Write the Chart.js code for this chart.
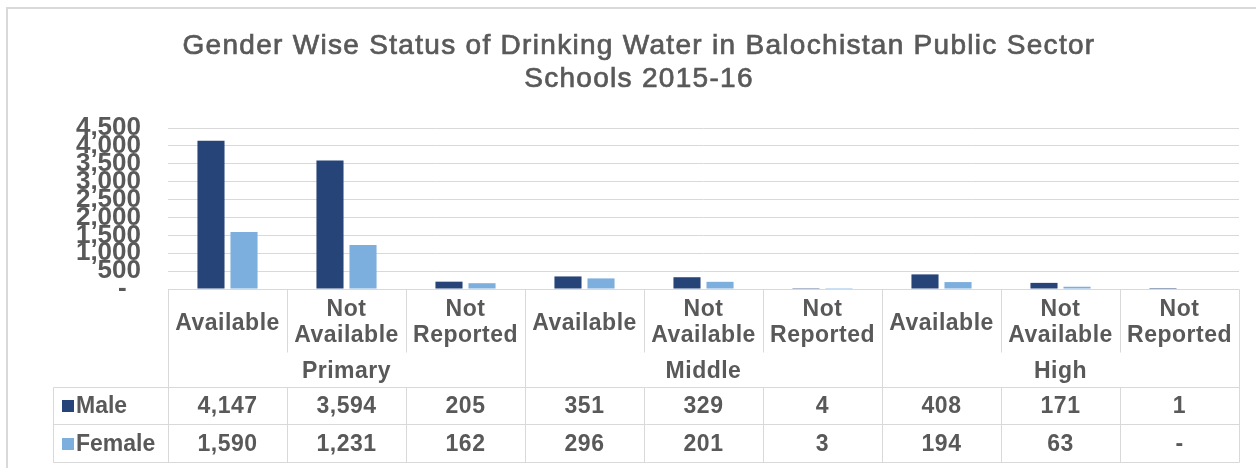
<!DOCTYPE html>
<html>
<head>
<meta charset="utf-8">
<title>Gender Wise Status of Drinking Water</title>
<script src="https://cdn.jsdelivr.net/npm/chart.js@4.4.1/dist/chart.umd.min.js"></script>
<style>
    html, body { margin: 0; padding: 0; background: #fff; }
    #wrap { width: 1256px; height: 468px; position: relative; }
</style>
</head>
<body>
<div id="wrap"><canvas id="waterChart"></canvas></div>
<script>
// Data
const titleLines = ['Gender Wise Status of Drinking Water in Balochistan Public Sector', 'Schools 2015-16'];
const levels = ['Primary', 'Middle', 'High'];
const statuses = [['Available'], ['Not', 'Available'], ['Not', 'Reported']];
const maleValues = [4147, 3594, 205, 351, 329, 4, 408, 171, 1];
const femaleValues = [1590, 1231, 162, 296, 201, 3, 194, 63, 0];
const yTicks = [0, 500, 1000, 1500, 2000, 2500, 3000, 3500, 4000, 4500];

const MALE_COLOR = '#264478';
const FEMALE_COLOR = '#7cafdd';
const TEXT_COLOR = '#595959';
const LINE_COLOR = '#d9d9d9';

// One label per bar group: level + status
const labels = [];
levels.forEach(level => {
    statuses.forEach(s => labels.push(level + ' ' + s.join(' ')));
});

function fmt(v) {
    return v === 0 ? '-' : v.toLocaleString('en-US');
}

// White background, outer frame and the title
const framePlugin = {
    id: 'frame',
    beforeDraw(chart) {
        const ctx = chart.ctx;
        ctx.save();
        ctx.fillStyle = '#fff';
        ctx.fillRect(0, 0, chart.width, chart.height);
        ctx.strokeStyle = LINE_COLOR;
        ctx.lineWidth = 2;
        ctx.beginPath();
        ctx.moveTo(7, chart.height);
        ctx.lineTo(7, 8);
        ctx.lineTo(chart.width, 8);
        ctx.stroke();

        // title, slightly thickened to match the medium weight
        ctx.fillStyle = TEXT_COLOR;
        ctx.strokeStyle = TEXT_COLOR;
        ctx.lineWidth = 0.7;
        ctx.font = '28px "Liberation Sans", Arial, sans-serif';
        ctx.letterSpacing = '1.3px';
        ctx.textAlign = 'center';
        ctx.textBaseline = 'middle';
        titleLines.forEach((t, i) => {
            ctx.fillText(t, 639, 46 + i * 33);
            ctx.strokeText(t, 639, 46 + i * 33);
        });
        ctx.restore();
    }
};

// Data table under the plot, columns follow the x scale
const tablePlugin = {
    id: 'dataTable',
    afterDraw(chart) {
        const ctx = chart.ctx;
        const { left, right, bottom } = chart.chartArea;
        const x = chart.scales.x;
        const colW = (right - left) / labels.length;
        const legendLeft = left - 115;
        const rowHead = bottom + 63;
        const rowGroup = bottom + 98;
        const rowMale = bottom + 135;
        const rowFemale = bottom + 173;

        ctx.save();
        ctx.strokeStyle = LINE_COLOR;
        ctx.lineWidth = 1;

        const line = (x1, y1, x2, y2) => {
            ctx.beginPath();
            ctx.moveTo(Math.round(x1) + 0.5, Math.round(y1) + 0.5);
            ctx.lineTo(Math.round(x2) + 0.5, Math.round(y2) + 0.5);
            ctx.stroke();
        };

        // horizontal lines
        line(left, bottom, right, bottom);
        line(legendLeft, rowGroup, right, rowGroup);
        line(legendLeft, rowMale, right, rowMale);
        line(legendLeft, rowFemale, right, rowFemale);

        // vertical lines
        line(legendLeft, rowGroup, legendLeft, rowFemale);
        for (let i = 0; i <= labels.length; i++) {
            const xe = x.getPixelForValue(i) - colW / 2;
            if (i % statuses.length === 0) {
                line(xe, bottom, xe, rowFemale);
            } else {
                line(xe, bottom, xe, rowHead);
                line(xe, rowGroup, xe, rowFemale);
            }
        }

        ctx.fillStyle = TEXT_COLOR;
        ctx.font = 'bold 23px "Liberation Sans", Arial, sans-serif';
        ctx.letterSpacing = '0.5px';
        ctx.textAlign = 'center';
        ctx.textBaseline = 'middle';

        // category labels and values
        labels.forEach((_, i) => {
            const cx = x.getPixelForValue(i);
            const lines = statuses[i % statuses.length];
            if (lines.length === 1) {
                ctx.fillText(lines[0], cx, bottom + 35);
            } else {
                ctx.fillText(lines[0], cx, bottom + 21);
                ctx.fillText(lines[1], cx, bottom + 47);
            }
            ctx.fillText(fmt(maleValues[i]), cx, bottom + 118);
            ctx.fillText(fmt(femaleValues[i]), cx, bottom + 156);
        });

        // group labels
        levels.forEach((level, g) => {
            const a = x.getPixelForValue(g * statuses.length);
            const b = x.getPixelForValue(g * statuses.length + statuses.length - 1);
            ctx.fillText(level, (a + b) / 2, bottom + 83);
        });

        // legend keys
        ctx.textAlign = 'left';
        ctx.letterSpacing = '0px';
        const keys = [
            { name: 'Male', color: MALE_COLOR, y: bottom + 118 },
            { name: 'Female', color: FEMALE_COLOR, y: bottom + 156 }
        ];
        keys.forEach(k => {
            ctx.fillStyle = k.color;
            ctx.fillRect(legendLeft + 9, k.y - 7, 12, 12);
            ctx.fillStyle = TEXT_COLOR;
            ctx.fillText(k.name, legendLeft + 23, k.y);
        });

        ctx.restore();
    }
};

const ctx = document.getElementById('waterChart').getContext('2d');
new Chart(ctx, {
    type: 'bar',
    data: {
        labels: labels,
        datasets: [
            {
                label: 'Male',
                data: maleValues,
                backgroundColor: MALE_COLOR,
                categoryPercentage: 0.555,
                barPercentage: 0.82
            },
            {
                label: 'Female',
                data: femaleValues,
                backgroundColor: FEMALE_COLOR,
                categoryPercentage: 0.555,
                barPercentage: 0.82
            }
        ]
    },
    options: {
        responsive: true,
        maintainAspectRatio: false,
        animation: false,
        layout: {
            padding: { top: 128, left: 10, right: 17, bottom: 179 }
        },
        plugins: {
            legend: { display: false },
            tooltip: { enabled: false },
            title: { display: false }
        },
        scales: {
            x: {
                display: false
            },
            y: {
                min: 0,
                max: yTicks[yTicks.length - 1],
                afterFit: scale => { scale.width = 158; },
                afterBuildTicks: scale => {
                    scale.ticks = yTicks.map(v => ({ value: v }));
                },
                grid: {
                    color: LINE_COLOR,
                    drawTicks: false
                },
                border: { display: false },
                ticks: {
                    autoSkip: false,
                    padding: 27,
                    color: TEXT_COLOR,
                    font: { family: '"Liberation Sans Narrow", "Arial Narrow", sans-serif', size: 26, weight: 'bold' },
                    callback: v => v === 0 ? '-  ' : v.toLocaleString('en-US')
                }
            }
        }
    },
    plugins: [framePlugin, tablePlugin]
});
</script>
</body>
</html>
